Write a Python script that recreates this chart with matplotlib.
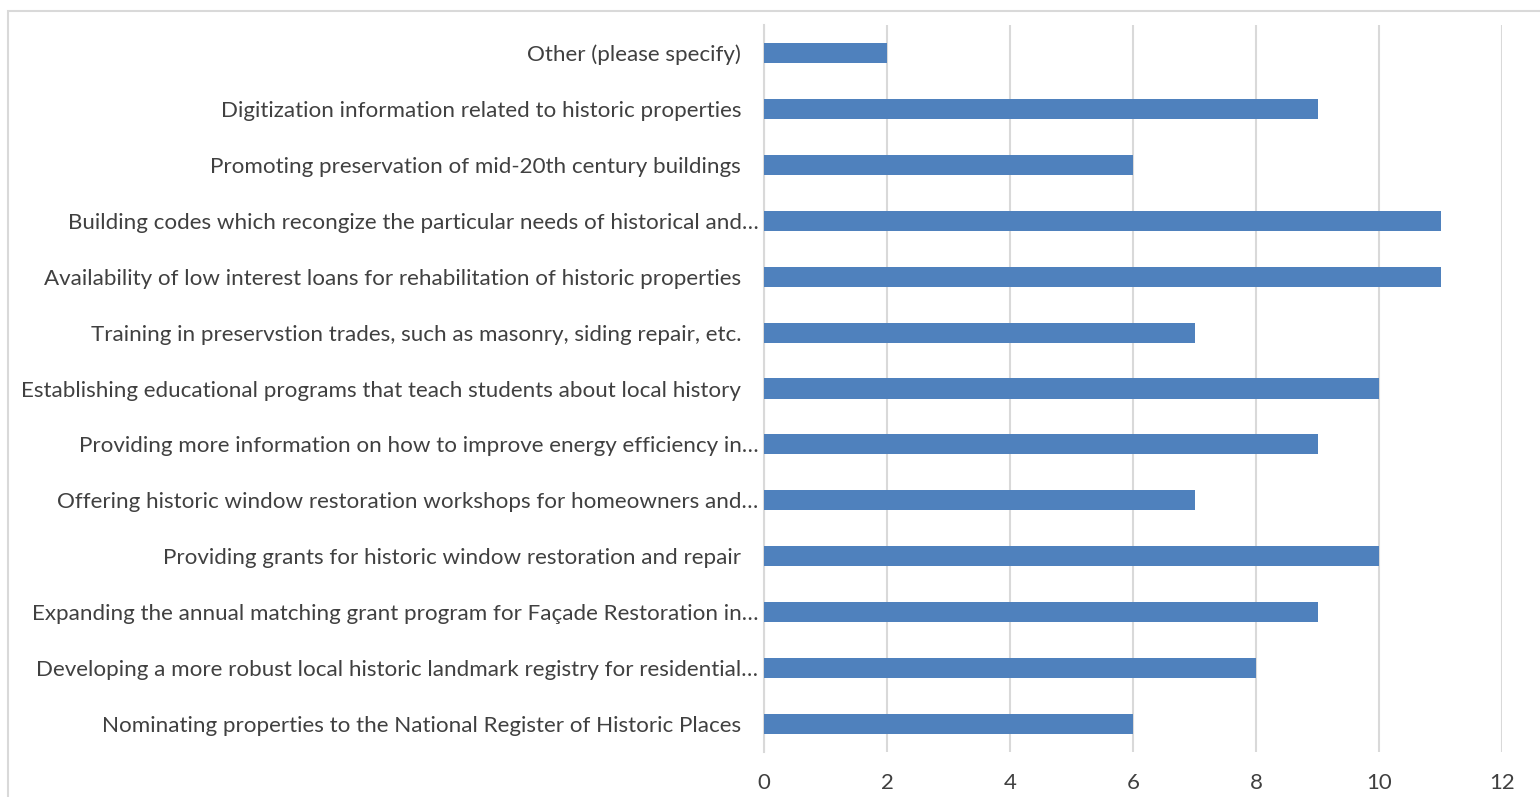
import matplotlib.pyplot as plt
from matplotlib.patches import Rectangle

# categories listed from top to bottom as shown
labels = [
    "Other (please specify)",
    "Digitization information related to historic properties",
    "Promoting preservation of mid-20th century buildings",
    "Building codes which recongize the particular needs of historical and\u2026",
    "Availability of low interest loans for rehabilitation of historic properties",
    "Training in preservstion trades, such as masonry, siding repair, etc.",
    "Establishing educational programs that teach students about local history",
    "Providing more information on how to improve energy efficiency in\u2026",
    "Offering historic window restoration workshops for homeowners and\u2026",
    "Providing grants for historic window restoration and repair",
    "Expanding the annual matching grant program for Fa\u00e7ade Restoration in\u2026",
    "Developing a more robust local historic landmark registry for residential\u2026",
    "Nominating properties to the National Register of Historic Places",
]
counts = [2, 9, 6, 11, 11, 7, 10, 9, 7, 10, 9, 8, 6]
xticks = [0, 2, 4, 6, 8, 10, 12]

plt.rcParams['font.family'] = ['Lato', 'DejaVu Sans']

fig = plt.figure(figsize=(15.4, 7.97), dpi=100)
ax = fig.add_axes([764 / 1540, 1 - 752 / 797, (1502 - 764) / 1540, (752 - 25) / 797])

ypos = list(range(len(labels)))
ax.barh(ypos, counts, height=0.36, color='#4f81bd', zorder=3)

# full labels stop short of the axis, truncated ones run up to it
shown = [t if t.endswith('\u2026') else t + '   ' for t in labels]

ax.set_xlim(0, 12)
ax.set_ylim(len(labels) - 0.5, -0.5)
ax.set_yticks(ypos)
ax.set_yticklabels(shown, fontsize=16.1, color='#404040')
ax.set_xticks(xticks)
ax.set_xticklabels([str(t) for t in xticks], fontsize=16, color='#404040')

ax.grid(axis='x', color='#d9d9d9', linewidth=1.5, zorder=0)
for s in ['top', 'right', 'bottom']:
    ax.spines[s].set_visible(False)
ax.spines['left'].set_color('#d9d9d9')
ax.spines['left'].set_linewidth(1.5)
ax.tick_params(axis='y', length=0, pad=4)
ax.tick_params(axis='x', length=0, pad=15)

# chart area border (cropped at right and bottom)
fig.patches.append(Rectangle((8 / 1540, -0.1), 1.2, 1 - 11 / 797 + 0.1,
                             transform=fig.transFigure, fill=False,
                             edgecolor='#d9d9d9', linewidth=1.5))

fig.savefig('out.png', dpi=100)
